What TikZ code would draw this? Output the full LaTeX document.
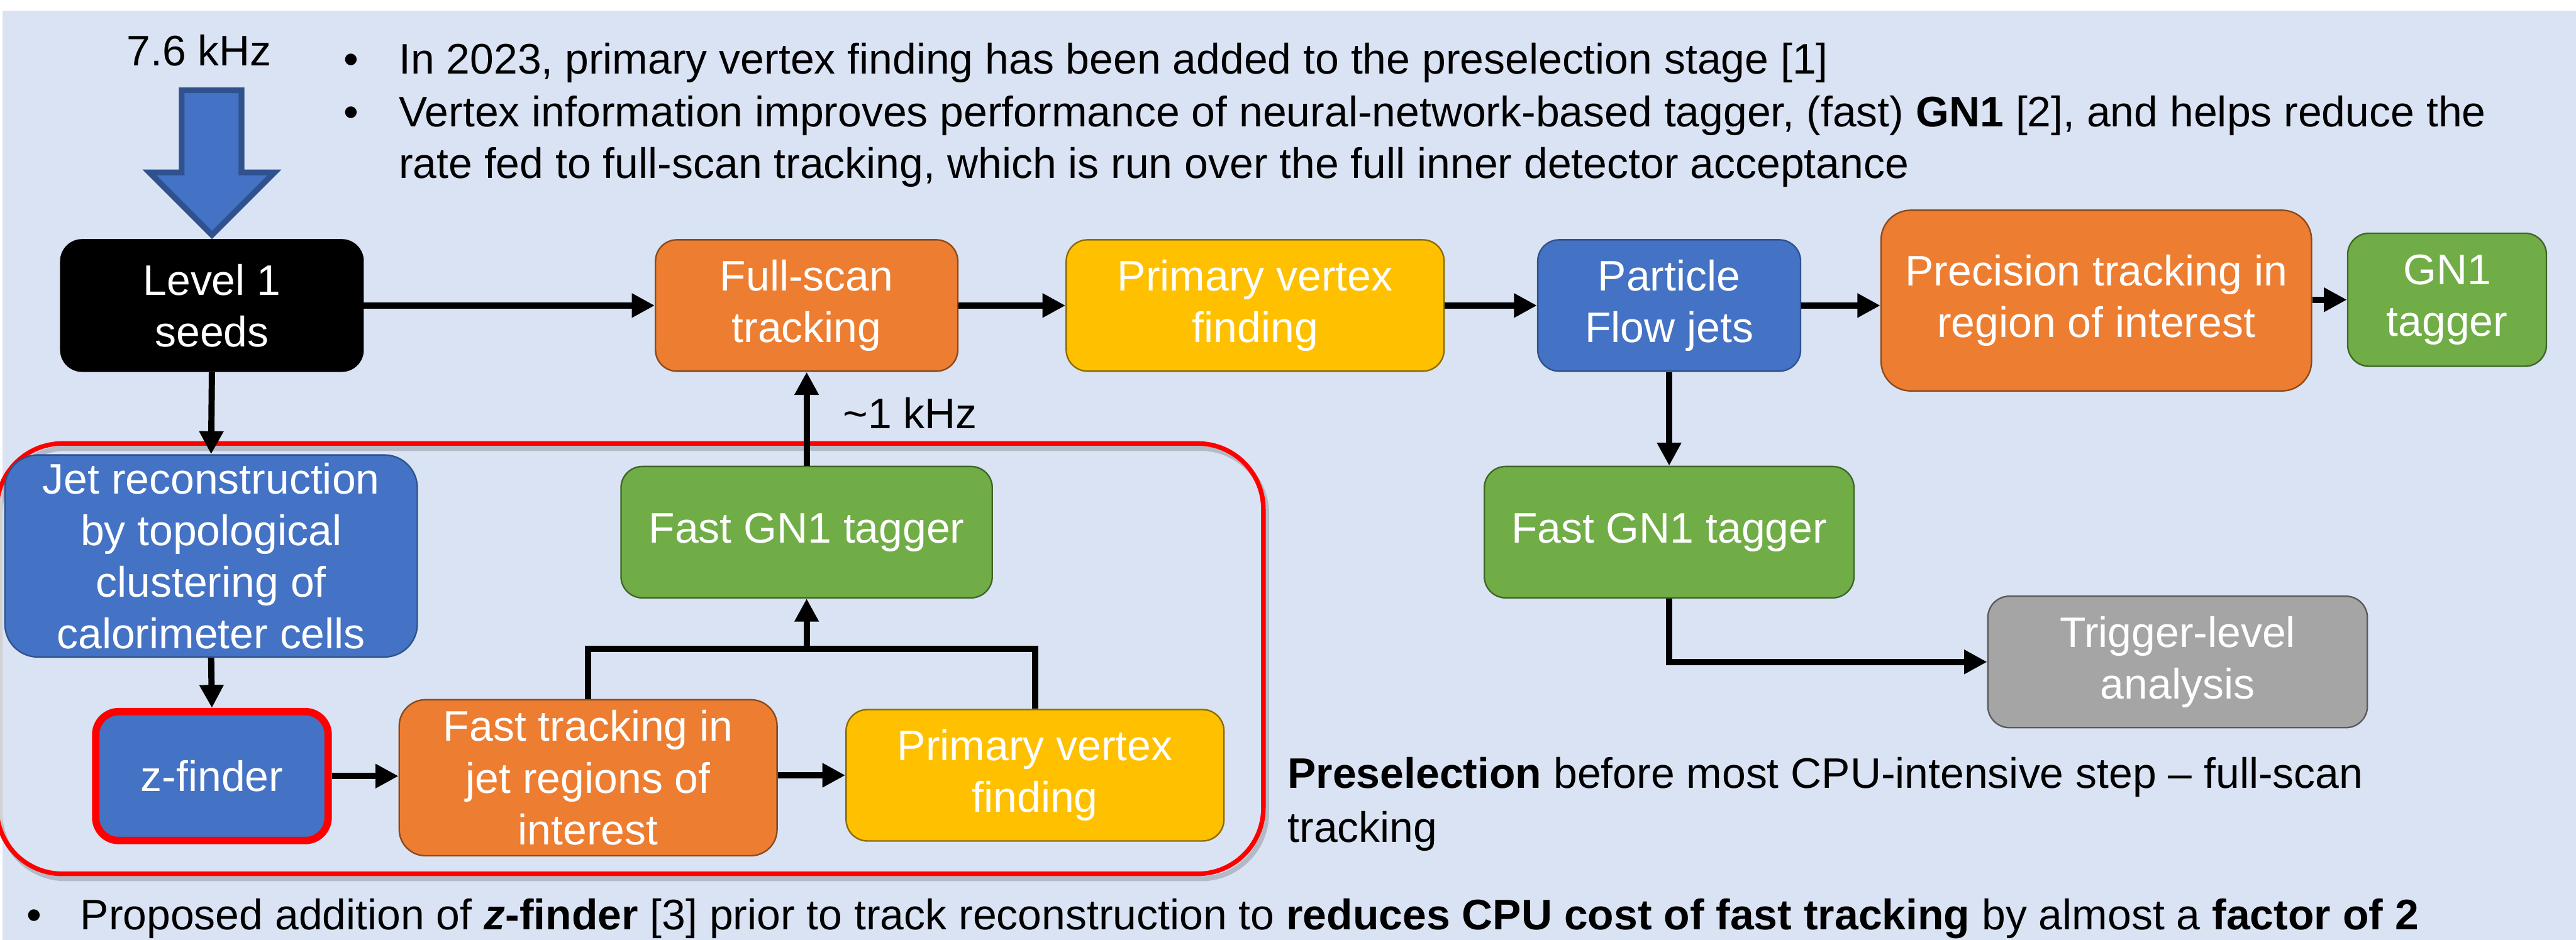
\documentclass[tikz,border=0pt]{standalone}
\usepackage{fontspec}
\setmainfont{Liberation Sans}
\usetikzlibrary{arrows.meta}
\definecolor{bg}{HTML}{DAE3F3}
\definecolor{cblue}{HTML}{4472C4}
\definecolor{cbluel}{HTML}{2F528F}
\definecolor{corange}{HTML}{ED7D31}
\definecolor{corangel}{HTML}{8A4A1C}
\definecolor{cyellow}{HTML}{FFC000}
\definecolor{cyellowl}{HTML}{8C6B00}
\definecolor{cgreen}{HTML}{70AD47}
\definecolor{cgreenl}{HTML}{3F6628}
\definecolor{cgray}{HTML}{A5A5A5}
\definecolor{cgrayl}{HTML}{5A5A5A}
\definecolor{cred}{HTML}{FF0000}
\begin{document}
\begin{tikzpicture}[x=1pt,y=-1pt,
  box/.style={draw, line width=0.9pt, align=center, text=white, inner sep=0pt,
    font=\fontsize{26}{31.5}\selectfont, rounded corners=13pt},
  bluebox/.style={box, fill=cblue, draw=cbluel},
  orangebox/.style={box, fill=corange, draw=corangel},
  yellowbox/.style={box, fill=cyellow, draw=cyellowl},
  greenbox/.style={box, fill=cgreen, draw=cgreenl},
  graybox/.style={box, fill=cgray, draw=cgrayl},
  txt/.style={anchor=base west, inner sep=0pt, font=\fontsize{26}{31.5}\selectfont},
  arr/.style={line width=3.8pt, -{Triangle[length=14pt,width=14pt]}},
  conn/.style={line width=3.8pt, line join=miter}]
\useasboundingbox (0,0) rectangle (1568,572.3);
% background
\fill[white] (0,0) rectangle (1568,572.3);
\fill[bg] (1.4,6.4) rectangle (1568,572.3);

% big input arrow
\draw[fill=cblue, draw=cbluel, line width=3.5pt, line join=miter]
  (110.6,55) -- (147,55) -- (147,105) -- (167,105) -- (129,143) -- (91,105) -- (110.6,105) -- cycle;
\node[txt] (rate) at (77,40) {7.6 kHz};

% top bullets
\node[txt] (b1) at (209,45) {\textbullet};
\node[txt] (t1) at (242.6,45) {In 2023, primary vertex finding has been added to the preselection stage [1]};
\node[txt] (b2) at (209,77) {\textbullet};
\node[txt] (t2) at (242.6,77) {Vertex information improves performance of neural-network-based tagger, (fast) \textbf{GN1} [2], and helps reduce the};
\node[txt] (t3) at (242.6,108.4) {rate fed to full-scan tracking, which is run over the full inner detector acceptance};

% red preselection frame with soft shadow
\draw[black, opacity=0.18, line width=3pt, rounded corners=40pt] (0,273) rectangle (771,535);
\draw[cred, line width=2.8pt, rounded corners=40pt] (-2,270) rectangle (769,532);

% boxes
\node[box, fill=black, draw=black, minimum width=184pt, minimum height=80pt] (L1) at (129,186) {Level 1\\seeds};
\node[orangebox, minimum width=184pt, minimum height=80pt] (FS) at (491,186) {Full-scan\\tracking};
\node[yellowbox, minimum width=230pt, minimum height=80pt] (PV1) at (764,186) {Primary vertex\\finding};
\node[bluebox, minimum width=160pt, minimum height=80pt] (PF) at (1016,186) {Particle\\Flow jets};
\node[orangebox, minimum width=262pt, minimum height=110pt, rounded corners=18pt] (PT) at (1276,183) {Precision tracking in\\region of interest};
\node[greenbox, minimum width=121pt, minimum height=81pt] (GN) at (1489.5,182.5) {GN1\\tagger};
\node[bluebox, minimum width=251pt, minimum height=123pt, rounded corners=20pt] (JR) at (128.5,338.5) {Jet reconstruction\\by topological\\clustering of\\calorimeter cells};
\node[box, fill=cblue, draw=cred, line width=4.5pt, minimum width=141.5pt, minimum height=78.5pt, rounded corners=14pt] (ZF) at (129,472.5) {z-finder};
\node[orangebox, minimum width=230pt, minimum height=95pt, rounded corners=16pt] (FT) at (358,473.5) {Fast tracking in\\jet regions of\\interest};
\node[yellowbox, minimum width=230pt, minimum height=80pt] (PV2) at (630,472) {Primary vertex\\finding};
\node[greenbox, minimum width=226pt, minimum height=80pt] (FG1) at (491,324) {Fast GN1 tagger};
\node[greenbox, minimum width=225pt, minimum height=80pt] (FG2) at (1016,324) {Fast GN1 tagger};
\node[graybox, minimum width=231pt, minimum height=80pt] (TL) at (1325.5,403) {Trigger-level\\analysis};

% connectors
\draw[arr] (L1.east) -- (FS.west);
\draw[arr] (FS.east) -- (PV1.west);
\draw[arr] (PV1.east) -- (PF.west);
\draw[arr] (PF.east) -- (PF.east -| PT.west);
\draw[arr] (PT.east |- GN.west) -- (GN.west);
\draw[arr] (L1.south) -- (JR.north);
\draw[arr] (JR.south) -- (ZF.north);
\draw[arr] (ZF.east) -- (ZF.east -| FT.west);
\draw[arr] (FT.east |- PV2.west) -- (PV2.west);
\coordinate (J) at (491,395);
\draw[conn] (FT.north) -- (FT.north |- J) -- (PV2.north |- J) -- (PV2.north);
\draw[arr] (J) -- (FG1.south);
\draw[arr] (FG1.north) -- (FS.south);
\node[txt] (khz) at (513,261) {\textasciitilde1 kHz};
\draw[arr] (PF.south) -- (FG2.north);
\draw[arr] (FG2.south) |- (TL.west);

% preselection text
\node[txt] (p1) at (783.6,480) {\textbf{Preselection} before most CPU-intensive step -- full-scan};
\node[txt] (p2) at (783.6,512.6) {tracking};

% bottom bullet
\node[txt] (b3) at (16,566) {\textbullet};
\node[txt] (t4) at (48.7,566) {Proposed addition of \textbf{\textit{z}-finder} [3] prior to track reconstruction to \textbf{reduces CPU cost of fast tracking} by almost a \textbf{factor of 2}};
\end{tikzpicture}
\end{document}
